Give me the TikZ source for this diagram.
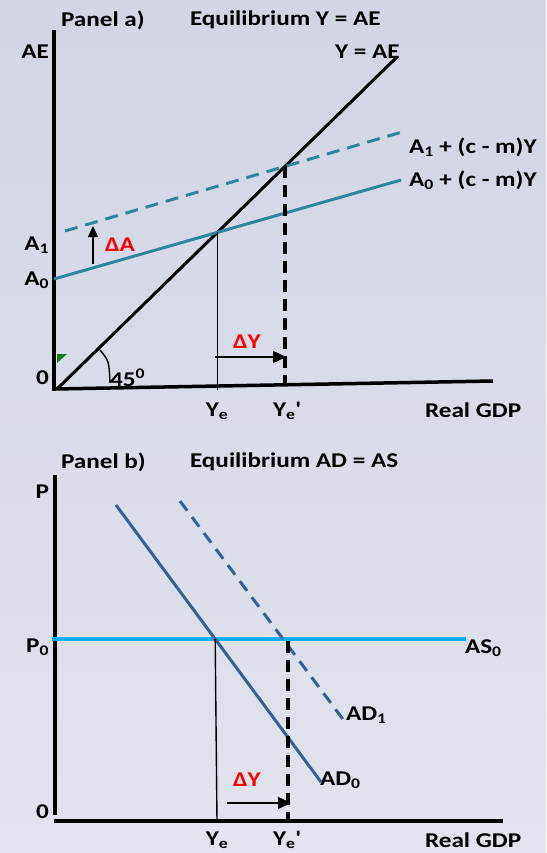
\documentclass[tikz,border=0pt]{standalone}
\usepackage{fontspec}
\setmainfont{Carlito}[FakeStretch=1.2]
\usetikzlibrary{arrows.meta, positioning, calc}
\definecolor{cBack}{RGB}{209,213,228}
\definecolor{cBackLow}{RGB}{225,227,237}
\definecolor{cTeal}{RGB}{49,133,155}
\definecolor{cNavy}{RGB}{55,96,146}
\definecolor{cSky}{RGB}{0,176,240}
\definecolor{cRed}{RGB}{255,0,0}
\definecolor{cMark}{RGB}{24,120,24}
\tikzset{
	lbl/.style      ={inner sep=0pt, outer sep=0pt},
	delta/.style    ={lbl, text=cRed},
	axisln/.style   ={line width=4pt},
	diagln/.style   ={line width=3pt},
	aeln/.style     ={line width=3pt, cTeal},
	aeshift/.style  ={aeln, dash pattern=on 13pt off 8pt},
	adln/.style     ={line width=3pt, cNavy},
	adshift/.style  ={adln, dash pattern=on 12pt off 8pt},
	asln/.style     ={line width=3.5pt, cSky},
	guide/.style    ={line width=1.4pt},
	guideshift/.style={line width=4pt, dash pattern=on 12pt off 7pt},
	shiftarrow/.style={line width=1.4pt, -{Triangle[length=13pt, width=12pt]}},
}
\begin{document}
\begin{tikzpicture}[x=1pt, y=-1pt, font=\fontsize{21}{25}\selectfont\bfseries]
	\useasboundingbox (0,0) rectangle (546,853);
	\fill[top color=cBack, bottom color=cBackLow] (0,0) rectangle (546,853);

	% panel a: 45-degree diagram
	\node[lbl, anchor=west] (aPanel) at (61,20) {Panel a)};
	\node[lbl, anchor=west] (aTitle) at (190,20) {Equilibrium Y = AE};
	\coordinate (aAxTop) at (53.5,30);
	\coordinate (aAxO) at (53.5,391);
	\coordinate (aO) at (57,389);
	\coordinate (aAxEnd) at (493,381);
	\coordinate (aDiag) at (397,57);
	\coordinate (aA0) at (54,279);
	\coordinate (aA0end) at (401,180);
	\coordinate (aA1) at (65,231);
	\coordinate (aA1end) at (402,132);
	\coordinate (aFoot) at (0,390);
	\coordinate (aFoot1) at (0,386);
	\draw[axisln] (aAxTop) -- (aAxO);
	\draw[line width=3.5pt] (55,389) -- (aAxEnd);
	\draw[diagln] (aO) -- (aDiag);
	\draw[aeln] (aA0) -- (aA0end);
	\draw[aeshift] (aA1) -- (aA1end);
	\coordinate (aEq) at (intersection of aO--aDiag and aA0--aA0end);
	\coordinate (aEq1) at (intersection of aO--aDiag and aA1--aA1end);
	\coordinate (aYe) at (aEq|-aFoot);
	\coordinate (aYe1) at (aEq1|-aFoot1);
	\draw[guide] (aEq) -- (aYe);
	\draw[guideshift] (aEq1) -- (aYe1);
	\coordinate (aDYs) at (215,357);
	\coordinate (aDYe) at (286,357);
	\draw[shiftarrow] (aDYs) -- (aDYe);
	\coordinate (aDAs) at (93,264);
	\coordinate (aDAe) at (93,226);
	\draw[shiftarrow, -{Triangle[length=11pt, width=10pt]}] (aDAs) -- (aDAe);
	\coordinate (aArcS) at (100,350);
	\coordinate (aArcE) at (110,383);
	\draw[guide] (aArcS) .. controls (109,361) .. (aArcE);
	\fill[cMark] (57,354) -- (67,354) -- (57,363) -- cycle;

	\node[lbl, anchor=east] (aAE) at (49,52) {AE};
	\node[lbl, anchor=west] (aYAE) at (335,52) {Y = AE};
	\node[lbl, anchor=west] (aA1lbl) at (409,147) {A\textsubscript{1} + (c - m)Y};
	\node[lbl, anchor=west] (aA0lbl) at (409,180) {A\textsubscript{0} + (c - m)Y};
	\node[lbl, anchor=east] (aA1ax) at (49,245) {A\textsubscript{1}};
	\node[lbl, anchor=east] (aA0ax) at (49,280) {A\textsubscript{0}};
	\node[delta, anchor=west] (aDA) at (105,245) {ΔA};
	\node[delta, anchor=west] (aDY) at (233,342) {ΔY};
	\node[lbl, anchor=east] (aZero) at (49,378) {0};
	\node[lbl, anchor=west] (aAng) at (110,378) {45\textsuperscript{0}};
	\node[lbl] (aYeLbl) at (217,411) {Y\textsubscript{e}};
	\node[lbl, anchor=west] (aYe1Lbl) at (273,411) {Y\textsubscript{e}\textquotesingle};
	\node[lbl, anchor=west] (aGDP) at (425,410) {Real GDP};

	% panel b: AD-AS diagram
	\node[lbl, anchor=west] (bPanel) at (61,462) {Panel b)};
	\node[lbl, anchor=west] (bTitle) at (190,462) {Equilibrium AD = AS};
	\coordinate (bAxTop) at (54.5,475);
	\coordinate (bAxO) at (54.5,815);
	\coordinate (bAxL) at (54,821);
	\coordinate (bAxEnd) at (503,821);
	\coordinate (bAS) at (52,639);
	\coordinate (bASend) at (466,639);
	\coordinate (bAD0) at (116,505);
	\coordinate (bAD0end) at (321,782);
	\coordinate (bAD1) at (180,501);
	\coordinate (bAD1end) at (345,722);
	\draw[axisln] (bAxTop) -- (bAxO);
	\draw[axisln] (bAxL) -- (bAxEnd);
	\draw[asln] (bAS) -- (bASend);
	\draw[adln] (bAD0) -- (bAD0end);
	\draw[adshift] (bAD1) -- (bAD1end);
	\coordinate (bEq) at (intersection of bAS--bASend and bAD0--bAD0end);
	\coordinate (bYe) at (217,821);
	\coordinate (bEq1) at (288,641);
	\coordinate (bYe1) at (288,821);
	\draw[guide] (bEq) -- (bYe);
	\draw[guideshift] (bEq1) -- (bYe1);
	\coordinate (bDYs) at (227,803);
	\coordinate (bDYe) at (291,803);
	\draw[shiftarrow] (bDYs) -- (bDYe);

	\node[lbl, anchor=east] (bP) at (49,492) {P};
	\node[lbl, anchor=east] (bP0) at (49,647) {P\textsubscript{0}};
	\node[lbl, anchor=west] (bASlbl) at (465,648) {AS\textsubscript{0}};
	\node[lbl, anchor=west] (bAD1lbl) at (346,715) {AD\textsubscript{1}};
	\node[lbl, anchor=west] (bAD0lbl) at (320,780) {AD\textsubscript{0}};
	\node[delta, anchor=west] (bDY) at (233,780) {ΔY};
	\node[lbl, anchor=east] (bZero) at (49,812) {0};
	\node[lbl] (bYeLbl) at (217,840) {Y\textsubscript{e}};
	\node[lbl, anchor=west] (bYe1Lbl) at (273,840) {Y\textsubscript{e}\textquotesingle};
	\node[lbl, anchor=west] (bGDP) at (425,840) {Real GDP};
\end{tikzpicture}
\end{document}
